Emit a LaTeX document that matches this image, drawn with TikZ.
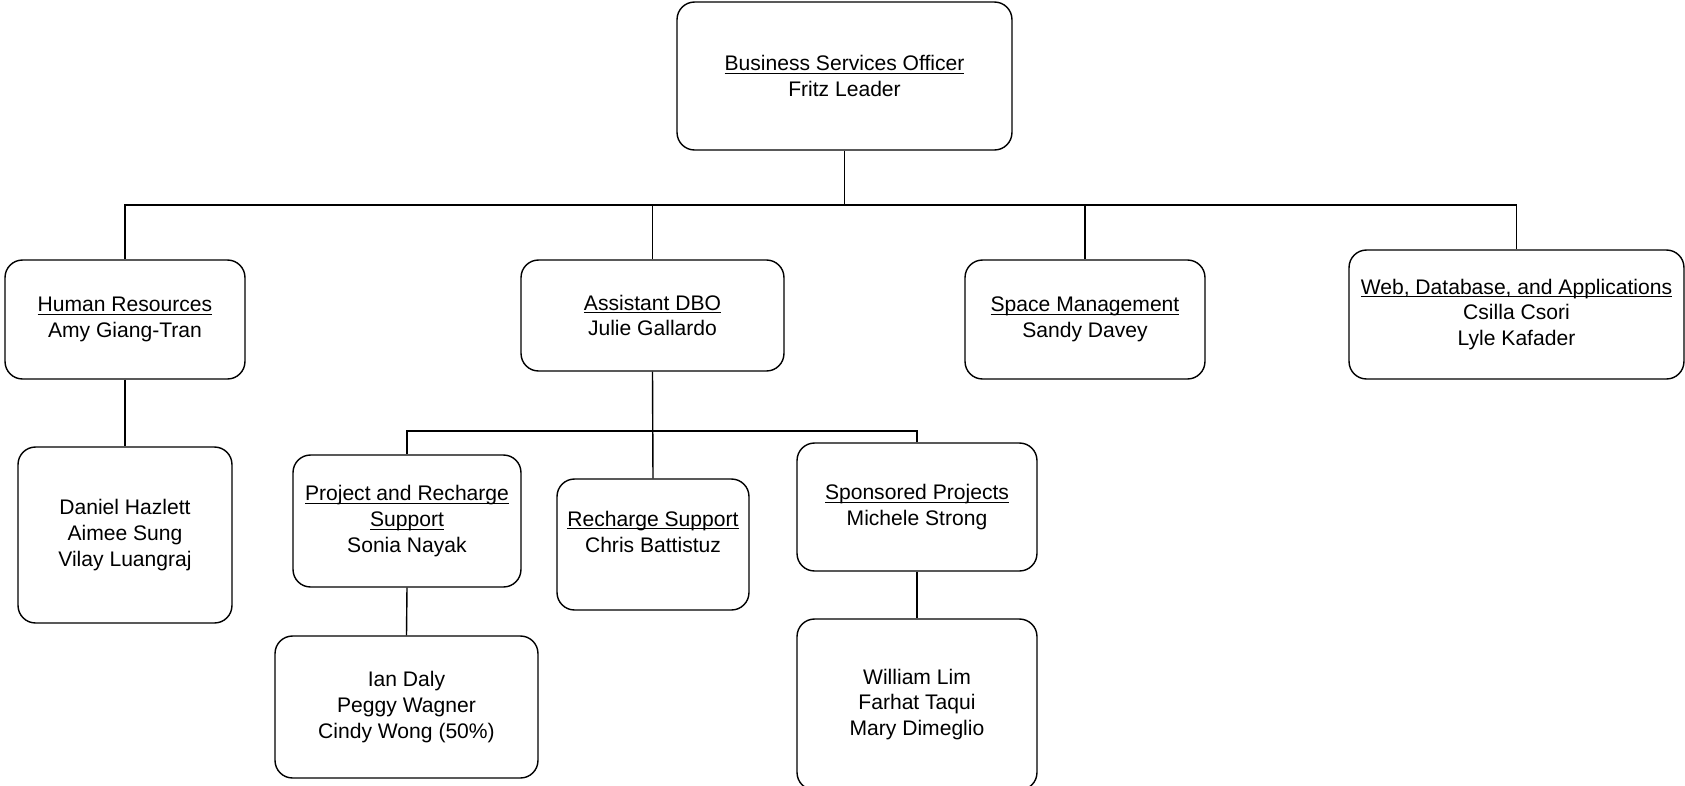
\documentclass[tikz,border=0pt]{standalone}
\usepackage{fontspec}
\setmainfont{Liberation Sans}
\begin{document}
\begin{tikzpicture}[x=0.02cm, y=-0.02cm,
  unit/.style={shape=rectangle, draw=black, line width=0.8pt, rounded corners=0.35cm, align=center, inner sep=2pt, font=\fontsize{12}{14.7}\selectfont},
  link/.style={-, line width=0.8pt, draw=black}]
\useasboundingbox (0,0) rectangle (1685,785);
\node[unit, minimum width=6.7cm, minimum height=2.96cm] (bso) at (844.5,76) {\underbar{Business Services Officer}\\Fritz Leader};
\node[unit, minimum width=4.8cm, minimum height=2.38cm] (hr) at (125,319.5) {\underbar{Human Resources}\\Amy Giang-Tran};
\node[unit, minimum width=5.26cm, minimum height=2.22cm] (adbo) at (652.5,315.5) {\underbar{Assistant DBO}\\Julie Gallardo};
\node[unit, minimum width=4.8cm, minimum height=2.38cm] (space) at (1085,319.5) {\underbar{Space Management}\\Sandy Davey};
\node[unit, minimum width=6.7cm, minimum height=2.58cm] (web) at (1516.5,314.5) {\underbar{Web, Database, and Applications}\\Csilla Csori\\Lyle Kafader};
\node[unit, minimum width=4.28cm, minimum height=3.52cm] (hrstaff) at (125,535) {Daniel Hazlett\\Aimee Sung\\Vilay Luangraj};
\node[unit, minimum width=4.56cm, minimum height=2.64cm] (prs) at (407,521) {\underbar{Project and Recharge}\\\underbar{Support}\\Sonia Nayak};
\node[unit, minimum width=3.84cm, minimum height=2.62cm] (rs) at (653,544.5) {\underbar{Recharge Support}\\Chris Battistuz\\\mbox{}};
\node[unit, minimum width=4.8cm, minimum height=2.56cm] (sp) at (917,507) {\underbar{Sponsored Projects}\\Michele Strong};
\node[unit, minimum width=5.26cm, minimum height=2.84cm] (prsstaff) at (406.5,707) {Ian Daly\\Peggy Wagner\\Cindy Wong (50\%)};
\node[unit, minimum width=4.8cm, minimum height=3.42cm] (spstaff) at (917,704.5) {William Lim\\Farhat Taqui\\Mary Dimeglio};
\coordinate (bus) at (844.5,205);
\coordinate (subbus) at (652.5,431);
\path [link] (bso.south) -- (bus);
\path [link] (hr.north) |- (bus);
\path [link] (adbo.north) |- (bus);
\path [link] (space.north) |- (bus);
\path [link] (web.north) |- (bus);
\path [link] (hr.south) -- (hrstaff.north);
\path [link] (adbo.south) -- (rs.north);
\path [link] (prs.north) |- (subbus);
\path [link] (sp.north) |- (subbus);
\path [link] (prs.south) -- (prsstaff.north);
\path [link] (sp.south) -- (spstaff.north);
\end{tikzpicture}
\end{document}
